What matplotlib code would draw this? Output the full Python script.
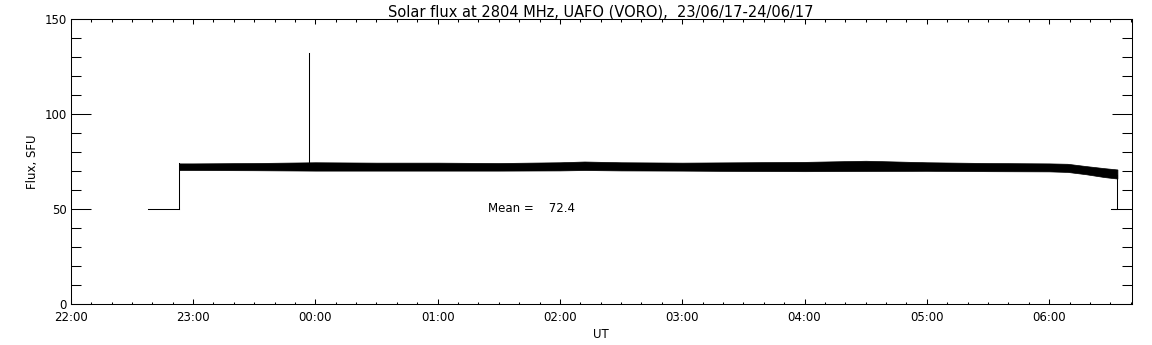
import matplotlib
matplotlib.use("Agg")
import matplotlib.pyplot as plt
from matplotlib.ticker import MultipleLocator, FixedLocator
import numpy as np

# ---- data (time in hours after 22:00 UT on 23/06/17) ----
pre_t = [0.635, 0.888]          # flat 50 SFU segment before start
pre_v = [50.0, 50.0]

band_t = [0.888, 1.0, 1.5, 2.0, 2.5, 3.0, 3.5, 4.0, 4.2, 4.5, 5.0, 5.5, 6.0,
          6.5, 7.0, 7.5, 8.0, 8.15, 8.3, 8.45, 8.558]
band_hi = [74.0, 74.0, 74.2, 74.6, 74.4, 74.4, 74.2, 74.6, 75.0, 74.6, 74.4,
           74.6, 74.8, 75.4, 74.6, 74.2, 74.0, 73.8, 72.6, 71.5, 70.8]
band_lo = [70.5, 70.5, 70.4, 70.2, 70.2, 70.2, 70.2, 70.3, 70.5, 70.3, 70.2,
           70.0, 69.9, 70.0, 70.1, 69.9, 69.8, 69.5, 68.3, 66.8, 66.0]

spike_t = 1.951
spike_base = 74.0
spike_top = 132.4

end_t = [8.558, 8.558, 8.507]
end_v = [68.0, 50.0, 50.0]

mean_value = 72.4

xtick_pos = [0, 1, 2, 3, 4, 5, 6, 7, 8]
xtick_labels = ["22:00", "23:00", "00:00", "01:00", "02:00", "03:00",
                "04:00", "05:00", "06:00"]
ytick_pos = [0, 50, 100, 150]
x_range = (0.0, 8.675)
y_range = (0, 150)

title = "Solar flux at 2804 MHz, UAFO (VORO),  23/06/17-24/06/17"

# ---- plot ----
plt.rcParams["font.family"] = ["DejaVu Sans"]
fig = plt.figure(figsize=(11.52, 3.45), dpi=100)
ax = fig.add_axes([0.0614, 0.1197, 0.9210, 0.8243])

lw = 0.75
ax.plot(pre_t, pre_v, color="black", lw=lw)
ax.plot([band_t[0], band_t[0]], [pre_v[-1], band_hi[0]], color="black", lw=lw)
ax.fill_between(band_t, band_lo, band_hi, color="black", lw=0.5,
                edgecolor="black")
ax.plot([spike_t, spike_t], [spike_base, spike_top], color="black", lw=lw)
ax.plot(end_t, end_v, color="black", lw=lw)

ax.text(3.41, 48.6, "Mean =    %.1f" % mean_value, fontsize=8.5,
        ha="left", va="baseline")

ax.set_xlim(*x_range)
ax.set_ylim(*y_range)
ax.xaxis.set_major_locator(FixedLocator(xtick_pos))
ax.set_xticklabels(xtick_labels)
ax.xaxis.set_minor_locator(MultipleLocator(1 / 6))
ax.yaxis.set_major_locator(FixedLocator(ytick_pos))
ax.yaxis.set_minor_locator(MultipleLocator(10))

ax.tick_params(which="both", direction="in", top=True, right=True,
               labelsize=8.5, width=0.75, colors="black")
ax.tick_params(axis="x", which="major", length=3.6, pad=5)
ax.tick_params(axis="x", which="minor", length=1.8)
ax.tick_params(axis="y", which="major", length=14.4, pad=3)
ax.tick_params(axis="y", which="minor", length=7.2)
for s in ax.spines.values():
    s.set_linewidth(0.75)

ax.set_title(title, fontsize=10.5, pad=2)
ax.set_ylabel("Flux, SFU", fontsize=8.5, labelpad=4)
ax.set_xlabel("UT", fontsize=8.5, labelpad=3)

fig.savefig("out.png", dpi=100, facecolor="white")
